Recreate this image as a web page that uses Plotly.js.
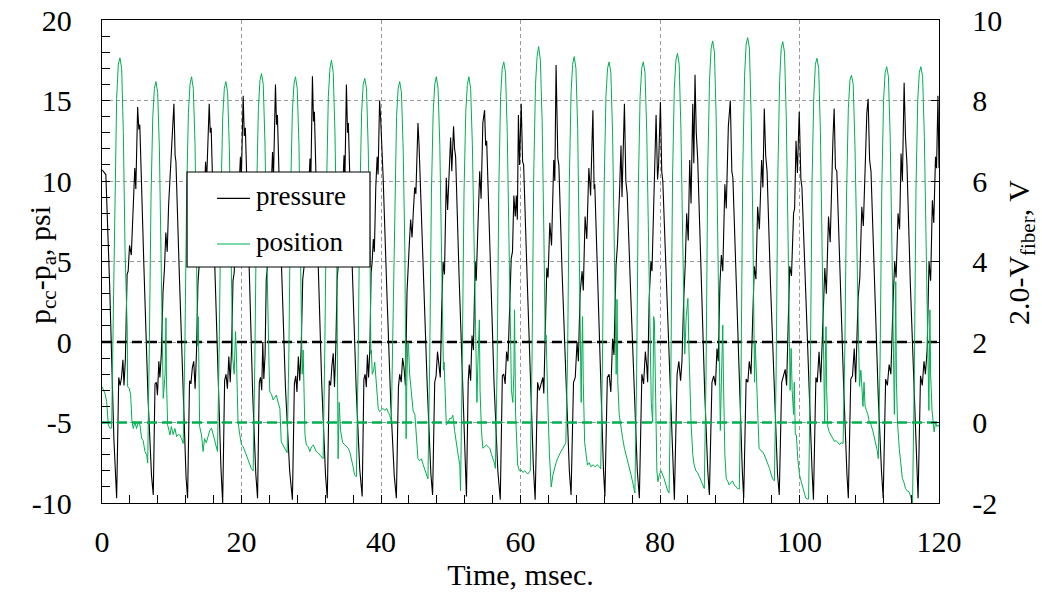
<!DOCTYPE html>
<html>
<head>
<meta charset="utf-8">
<script src="https://cdn.plot.ly/plotly-3.0.1.min.js"></script>
<style>html,body{margin:0;padding:0;background:#fff;}#chart{width:1042px;height:594px;}</style>
</head>
<body>
<div id="chart"></div>
<script>
// ---- data ----
const timePressure = [
0,0.55,1.10,1.70,
2.10,2.40,2.60,2.80,3.00,3.15,3.35,3.60,3.75,3.95,4.20,4.45,4.70,4.85,5.11,5.28,5.42,6.00,6.60,7.10,
7.35,7.60,7.80,7.95,8.15,8.30,8.50,8.75,8.95,9.15,9.35,9.55,9.80,9.95,10.31,10.48,10.60,11.10,11.60,12.05,
12.27,12.55,12.75,12.95,13.15,13.35,13.55,13.75,13.95,14.15,14.35,14.60,14.85,15.00,15.37,15.52,15.65,16.15,16.65,17.05,
17.30,17.58,17.78,17.98,18.18,18.38,18.58,18.78,18.95,19.15,19.35,19.60,19.85,19.98,20.24,20.40,20.55,21.05,21.60,22.05,
22.30,22.55,22.72,22.90,23.05,23.20,23.38,23.55,23.70,23.88,24.05,24.25,24.45,24.58,24.87,25.02,25.15,25.70,26.30,26.90,
27.30,27.58,27.78,27.95,28.15,28.35,28.55,28.78,28.95,29.15,29.35,29.58,29.82,29.95,30.17,30.32,30.45,30.95,31.50,32.05,
32.30,32.58,32.78,32.96,33.15,33.33,33.52,33.72,33.88,34.08,34.25,34.48,34.70,34.82,35.04,35.20,35.32,35.85,36.45,36.95,
37.30,37.55,37.72,37.90,38.05,38.22,38.40,38.58,38.72,38.90,39.05,39.25,39.45,39.58,39.80,39.95,40.10,40.30,40.85,41.40,41.90,
42.20,42.50,42.68,42.90,43.10,43.30,43.50,43.73,43.87,44.05,44.25,44.45,44.65,44.83,45.00,45.30,45.45,45.55,46.05,46.65,47.15,
47.40,47.70,47.90,48.10,48.30,48.50,48.70,48.90,49.10,49.36,49.55,49.80,49.98,50.15,50.40,50.55,50.70,51.20,51.75,52.05,
52.25,52.50,52.65,52.85,53.05,53.25,53.50,53.65,53.90,54.15,54.35,54.60,54.85,55.00,55.15,55.65,56.20,56.75,
57.10,57.40,57.60,57.80,58.00,58.20,58.43,58.67,58.85,59.05,59.25,59.40,59.55,59.70,59.86,60.10,60.30,60.45,60.95,61.45,61.85,
62.10,62.45,62.70,62.95,63.20,63.34,63.58,63.77,63.95,64.20,64.45,64.77,64.92,65.10,65.35,65.50,65.95,66.55,67.00,
67.25,67.60,67.85,68.11,68.30,68.54,68.83,69.00,69.26,69.50,69.80,70.05,70.38,70.55,70.65,71.05,71.50,71.90,
72.10,72.45,72.70,72.95,73.20,73.40,73.70,73.90,74.18,74.41,74.55,74.90,75.10,75.30,75.80,76.30,76.75,
77.04,77.40,77.65,77.90,78.10,78.23,78.45,78.70,78.85,79.05,79.20,79.44,79.65,79.80,80.06,80.25,80.40,80.90,81.40,81.85,
82.06,82.45,82.70,82.95,83.15,83.40,83.60,83.83,84.05,84.26,84.45,84.70,84.85,85.02,85.20,85.40,85.90,86.40,86.85,
87.08,87.45,87.70,87.95,88.17,88.35,88.60,88.80,89.00,89.30,89.50,89.80,90.08,90.30,90.45,90.95,91.40,91.80,
92.00,92.35,92.60,92.80,93.05,93.30,93.52,93.75,94.00,94.25,94.57,94.75,94.95,95.15,95.35,95.85,96.35,96.85,
97.10,97.45,97.70,97.95,98.15,98.40,98.60,98.85,99.15,99.30,99.50,99.70,99.96,100.20,100.35,100.90,101.40,101.80,
102.00,102.35,102.55,102.80,103.05,103.40,103.63,103.85,104.16,104.40,104.63,104.80,104.97,105.15,105.35,105.85,106.35,106.80,
107.00,107.35,107.60,107.85,108.05,108.40,108.65,108.93,109.15,109.45,109.65,109.84,110.05,110.25,110.75,111.30,111.75,
112.00,112.35,112.60,112.85,113.10,113.40,113.65,113.85,114.13,114.35,114.56,114.75,115.00,115.20,115.40,115.90,116.40,116.80,
117.00,117.35,117.60,117.85,118.05,118.30,118.57,118.80,119.05,119.25,119.50,119.65,119.85,120.00
];
const pressure = [
10.7,10.4,3.5,-6.0,
-9.7,-2.2,-2.7,-2.2,-1.1,-2.7,-1.1,4.2,4.4,6.0,5.4,8.7,10.8,9.5,14.6,13.2,13.5,4.8,-3.5,-8.3,
-9.5,-2.6,-2.5,-3.3,-1.2,-2.2,-0.8,3.1,4.5,6.8,5.6,8.5,10.6,12.0,14.8,11.6,11.2,4.0,-3.0,-8.4,
-9.7,-2.4,-2.6,-1.6,-1.2,-2.9,-0.6,3.6,4.9,6.4,5.5,8.9,11.2,10.0,14.8,13.0,13.3,5.0,-2.5,-7.8,
-10.0,-2.4,-2.0,-2.9,-0.9,-2.5,-0.4,3.8,4.3,6.5,5.0,9.2,11.5,10.2,15.3,12.8,13.3,5.0,-3.2,-8.2,
-9.7,-2.5,-2.2,-3.0,0.0,-2.3,-0.8,3.9,4.6,6.8,5.3,9.5,11.8,10.1,16.0,13.5,14.1,5.2,-2.8,-8.0,
-9.8,-2.6,-2.1,-3.1,-0.9,-2.4,-0.5,3.9,4.6,6.3,5.2,9.0,11.4,10.3,16.5,13.7,14.3,5.5,-2.6,-8.3,
-9.7,-2.4,-2.7,-1.5,-0.7,-2.8,-0.4,4.0,4.8,6.6,5.4,9.3,11.6,10.0,16.0,13.0,13.6,5.0,-3.0,-7.9,
-9.6,-2.3,-2.0,-2.8,-0.8,-2.2,-0.5,4.3,4.9,6.4,5.6,9.6,11.5,10.4,15.0,13.9,12.5,10.3,3.0,-3.8,-8.3,
-9.7,-2.8,-2.0,-2.5,-1.0,-1.6,-2.7,3.1,4.8,6.0,7.6,6.5,8.2,9.6,9.2,13.6,12.3,11.0,4.0,-3.0,-8.2,
-9.5,-2.5,-2.1,-0.6,-1.5,-2.2,2.0,5.0,4.2,10.2,8.2,11.5,12.7,10.6,13.4,12.0,11.5,4.0,-3.5,-7.8,
-9.6,-2.5,-1.4,-2.4,0.4,-0.5,5.0,3.8,7.8,10.6,8.9,13.6,14.4,12.2,12.5,5.0,-2.5,-8.0,
-9.8,-2.1,-2.0,-2.6,-0.6,-1.2,1.7,5.2,5.6,9.1,7.8,9.1,7.6,14.1,11.0,14.8,11.2,11.0,4.0,-3.0,-7.8,
-9.8,-2.5,-3.0,-2.5,-2.2,-3.2,2.1,4.6,4.0,7.4,6.0,11.3,10.0,17.2,11.4,11.0,4.5,-3.0,-8.0,
-9.5,-2.5,-2.2,0.0,-1.2,3.0,4.4,3.2,7.8,6.4,10.8,9.1,14.4,9.5,9.8,4.0,-2.8,-8.0,
-9.6,-2.2,-2.0,-3.1,0.2,-0.8,4.8,6.0,9.1,12.2,9.0,14.8,10.0,9.2,3.0,-3.5,-8.0,
-9.7,-2.0,-2.6,-0.6,-1.5,-2.5,2.7,5.0,4.4,8.0,9.0,14.1,10.1,11.0,14.9,10.6,10.0,4.0,-3.0,-8.0,
-9.8,-2.0,-1.2,-2.4,-1.2,2.7,4.6,8.0,6.3,11.3,8.6,14.8,11.1,16.6,13.0,11.4,4.0,-3.0,-8.0,
-9.5,-2.5,-2.1,-2.7,-0.4,-1.2,3.7,5.4,4.4,9.8,8.3,13.4,15.0,10.6,10.2,3.5,-3.0,-8.0,
-9.7,-2.3,-2.5,-1.2,-2.0,1.8,4.7,3.9,8.4,7.0,11.3,9.6,14.5,11.6,10.6,3.5,-3.0,-8.2,
-9.5,-2.5,-2.1,-1.7,-2.7,1.8,4.7,4.1,8.0,8.3,12.5,10.5,14.3,10.1,9.6,3.0,-3.5,-8.0,
-9.8,-2.2,-2.5,-0.6,-2.5,1.7,4.6,3.0,7.8,6.2,11.0,12.7,14.5,10.8,10.6,3.5,-3.0,-8.2,
-9.7,-2.3,-2.1,-0.4,-2.5,2.7,4.0,8.4,7.2,11.3,14.2,15.1,11.3,10.6,3.5,-3.5,-8.0,
-9.7,-2.3,-2.7,-1.4,-2.0,2.3,5.0,4.0,8.0,7.0,11.7,10.0,16.1,12.7,11.1,3.5,-3.0,-8.0,
-9.7,-2.1,-2.7,-1.2,-2.0,-0.5,5.0,3.8,8.8,7.4,11.5,10.8,15.3,10.8
];
const timePosition = [
0,0.43,0.67,0.91,1.15,1.38,
1.62,1.86,2.10,2.34,2.57,2.82,3.06,3.30,3.53,3.62,3.67,3.90,4.10,4.30,4.49,4.73,4.95,5.20,5.44,5.68,5.90,6.16,6.40,6.55,
6.78,7.03,7.28,7.51,7.73,7.98,8.23,8.48,8.78,9.05,9.17,9.25,9.41,9.60,9.74,9.95,10.20,10.45,10.70,10.95,11.16,11.40,11.64,
11.89,12.14,12.39,12.62,12.84,13.09,13.34,13.59,13.72,13.80,13.88,14.00,14.27,14.50,14.70,14.95,15.20,15.45,15.70,15.95,16.20,16.42,16.56,
16.81,17.06,17.31,17.54,17.76,18.01,18.26,18.51,18.75,18.95,19.14,19.25,19.50,19.75,20.00,20.25,20.50,20.75,20.96,21.20,21.40,21.67,
21.92,22.17,22.42,22.65,22.87,23.12,23.37,23.62,23.82,23.95,24.06,24.30,24.54,24.75,25.00,25.25,25.50,25.70,25.95,26.20,26.40,26.54,
26.79,27.04,27.29,27.52,27.74,27.99,28.24,28.49,28.70,28.84,28.95,29.10,29.30,29.55,29.80,30.05,30.30,30.50,30.70,30.95,31.20,31.45,31.70,
31.95,32.20,32.45,32.68,32.90,33.15,33.40,33.65,33.75,33.85,34.00,34.20,34.50,34.80,35.10,35.30,35.55,35.75,36.00,36.20,36.47,
36.72,36.97,37.22,37.45,37.67,37.92,38.17,38.42,38.55,38.62,38.75,38.95,39.10,39.30,39.60,39.80,40.05,40.30,40.55,40.80,41.05,41.25,41.48,
41.73,41.98,42.23,42.46,42.68,42.93,43.18,43.43,43.60,43.70,43.85,43.95,44.10,44.35,44.60,44.85,45.05,45.30,45.55,45.80,46.05,46.30,46.50,46.73,
46.98,47.23,47.48,47.71,47.93,48.18,48.43,48.68,48.85,48.95,49.05,49.20,49.36,49.60,49.85,50.10,50.30,50.55,50.80,51.05,51.30,51.40,
51.65,51.90,52.15,52.38,52.60,52.85,53.10,53.35,53.60,53.75,53.90,54.10,54.20,54.40,54.60,54.85,55.10,55.35,55.60,55.85,56.05,56.25,56.40,
56.65,56.90,57.15,57.38,57.60,57.85,58.10,58.35,58.55,58.70,58.90,59.05,59.14,59.30,59.60,59.85,60.10,60.35,60.60,60.80,61.05,61.40,
61.65,61.90,62.15,62.38,62.60,62.85,63.10,63.35,63.55,63.67,63.80,63.95,64.15,64.40,64.65,64.90,65.10,65.30,65.55,65.80,66.05,66.30,66.50,
66.75,67.00,67.25,67.48,67.70,67.95,68.20,68.45,68.65,68.70,68.80,68.90,69.00,69.20,69.60,69.85,70.10,70.40,70.70,71.00,71.30,71.50,
71.75,72.00,72.25,72.48,72.70,72.95,73.20,73.45,73.65,73.72,73.84,73.95,74.15,74.40,74.65,74.90,75.15,75.40,75.60,75.85,76.10,76.30,76.40,
76.65,76.90,77.15,77.38,77.60,77.85,78.10,78.35,78.55,78.75,78.95,79.10,79.20,79.35,79.55,79.70,79.90,80.15,80.40,80.60,80.85,81.10,81.30,
81.55,81.80,82.05,82.28,82.50,82.75,83.00,83.25,83.40,83.55,83.75,84.00,84.15,84.45,84.70,84.90,85.15,85.40,85.65,85.90,86.15,86.35,
86.60,86.85,87.10,87.33,87.55,87.80,88.05,88.30,88.50,88.65,88.80,89.00,89.10,89.30,89.50,89.70,89.90,90.15,90.40,90.65,90.90,91.10,91.37,
91.62,91.87,92.12,92.35,92.57,92.82,93.07,93.32,93.45,93.55,93.65,93.80,94.00,94.20,94.45,94.70,94.95,95.20,95.45,95.70,95.95,96.15,96.40,
96.65,96.90,97.15,97.38,97.60,97.85,98.10,98.35,98.55,98.65,98.80,98.95,99.15,99.25,99.40,99.55,99.75,100.00,100.30,100.50,100.75,100.90,101.15,101.30,
101.55,101.80,102.05,102.28,102.50,102.75,103.00,103.25,103.50,103.60,103.70,103.80,103.90,104.05,104.25,104.50,104.75,105.00,105.25,105.50,105.75,106.00,106.25,
106.50,106.75,107.00,107.23,107.45,107.70,107.95,108.20,108.45,108.60,108.80,108.95,109.10,109.25,109.40,109.60,109.80,110.00,110.25,110.50,110.70,110.90,111.15,111.30,
111.55,111.80,112.05,112.28,112.50,112.75,113.00,113.25,113.45,113.60,113.70,113.80,113.90,114.05,114.30,114.55,114.75,115.00,115.20,115.45,115.70,115.95,116.20,
116.45,116.70,116.95,117.18,117.40,117.65,117.90,118.15,118.35,118.55,118.62,118.70,118.80,119.00,119.30,119.50,119.70,119.90,120.00
];
const position = [
0.89,0.72,0.52,-0.06,-0.14,-0.14,
2.67,5.98,8.05,8.90,9.06,8.80,7.20,4.30,2.38,2.30,0.89,0.85,0.70,0.02,-0.15,0.02,-0.15,0.00,-0.06,-0.39,-0.45,-0.72,-0.80,-1.01,
1.8,5.6,7.6,8.3,8.47,8.2,6.8,4.2,0.6,1.2,2.6,1.0,-0.06,-0.2,-0.31,-0.1,-0.3,-0.15,-0.35,-0.3,-0.31,-0.4,-0.52,
2.0,5.7,7.7,8.4,8.59,8.3,6.9,4.3,1.9,2.63,1.5,-0.1,-0.31,-0.72,-0.4,-0.5,-0.35,-0.2,-0.14,-0.31,-0.5,-0.64,-0.72,
2.0,5.6,7.6,8.3,8.47,8.2,6.8,4.2,1.6,1.2,2.26,1.8,0.02,-0.3,-0.56,-0.6,-0.72,-0.8,-0.89,-1.0,-1.14,-1.2,
1.6,5.7,7.8,8.5,8.67,8.4,6.9,4.3,1.7,1.4,0.76,0.7,0.56,0.62,0.68,0.5,0.35,-0.48,-0.55,-0.64,-0.7,-0.75,
1.7,5.7,7.7,8.4,8.59,8.3,6.9,4.3,1.2,1.8,0.5,-0.3,-0.56,-0.6,-0.72,-0.6,-0.56,-0.65,-0.72,-0.75,-0.8,-0.85,-0.9,
1.9,5.9,8.1,8.8,9.0,8.7,7.2,4.5,1.6,-0.9,0.5,-0.2,-0.5,-0.56,-0.6,-0.64,-0.75,-0.89,-1.1,-1.3,-1.35,
1.5,5.6,7.7,8.4,8.55,8.3,6.8,4.3,1.7,1.8,1.2,1.3,1.5,1.0,0.35,0.27,0.32,0.35,0.3,0.35,0.25,0.18,0.02,
2.8,5.6,7.6,8.3,8.47,8.2,6.8,4.2,-0.4,1.0,2.0,1.9,1.2,0.76,0.3,0.2,-0.4,-0.9,-0.95,-0.9,-1.05,-1.2,-1.3,-1.4,
1.5,5.7,7.7,8.4,8.59,8.3,6.9,4.3,2.2,1.3,1.5,0.5,-0.06,0.0,0.1,0.1,0.18,-0.2,-0.56,-0.8,-1.06,-1.7,
1.5,5.7,7.7,8.4,8.59,8.3,6.9,4.3,1.6,0.5,1.5,2.55,0.8,-0.2,-0.64,-0.6,-0.56,-0.6,-0.64,-0.8,-0.9,-1.0,-1.14,
1.4,5.9,8.1,8.8,8.96,8.7,7.2,4.5,1.7,0.8,0.5,1.2,2.8,0.2,-1.06,-1.2,-1.18,-1.24,-1.2,-1.24,-1.28,-1.2,
1.5,6.2,8.4,9.1,9.34,9.0,7.5,4.7,2.0,2.17,0.9,0.3,-0.8,-1.6,-1.3,-1.1,-1.0,-0.9,-0.8,-0.72,-0.65,-0.56,-0.5,
1.6,6.0,8.2,8.9,9.09,8.8,7.3,4.5,2.0,0.5,1.8,2.63,1.0,-0.5,-1.06,-1.0,-1.1,-1.05,-1.1,-1.05,-1.1,-1.15,
1.5,5.9,8.1,8.8,8.96,8.7,7.2,4.5,1.6,1.2,3.06,1.0,0.2,-0.14,-0.4,-0.64,-0.8,-0.97,-1.1,-1.3,-1.5,-1.7,-1.75,
1.2,5.9,8.1,8.8,8.96,8.7,7.2,4.5,2.0,0.5,0.0,2.63,2.5,0.3,-1.2,-1.47,-1.3,-1.2,-1.3,-1.4,-1.55,-1.7,-1.75,
1.0,6.1,8.3,9.0,9.17,8.9,7.3,4.6,2.5,1.7,2.6,3.08,1.8,0.0,-0.8,-1.06,-1.2,-1.25,-1.35,-1.47,-1.55,-1.64,
1.2,6.3,8.5,9.3,9.48,9.2,7.6,4.7,2.2,-0.2,1.0,2.42,1.0,-0.8,-1.4,-1.45,-1.55,-1.5,-1.45,-1.55,-1.6,-1.64,-1.65,
1.2,6.3,8.6,9.4,9.56,9.3,7.6,4.8,2.2,1.0,2.0,1.2,0.2,-0.64,-0.7,-0.72,-0.8,-0.9,-1.0,-1.14,-1.3,-1.4,-1.45,
1.2,6.2,8.5,9.3,9.46,9.2,7.6,4.7,1.8,0.8,1.84,0.8,0.2,1.0,-0.3,-0.31,-0.9,-1.3,-1.5,-1.65,-1.8,-1.88,-1.9,-1.9,
1.2,6.0,8.1,8.9,9.05,8.8,7.2,4.5,2.0,0.0,1.5,2.38,0.8,-0.1,-0.23,-0.3,-0.4,-0.47,-0.45,-0.5,-0.55,-0.5,-0.52,
1.8,5.7,7.8,8.5,8.63,8.4,6.9,4.3,2.2,0.9,1.3,0.8,0.4,1.0,0.4,0.3,0.2,0.02,-0.05,-0.2,-0.35,-0.47,-0.7,-0.9,
1.5,5.8,8.0,8.7,8.84,8.6,7.1,4.4,2.0,0.2,1.5,3.5,1.0,0.0,-0.64,-1.0,-1.39,-1.5,-1.64,-1.7,-1.72,-1.85,-2.05,
1.0,5.8,8.0,8.7,8.84,8.6,7.1,4.4,2.0,0.3,1.5,2.8,1.2,0.3,-0.23,0.0,-0.1,-0.06,-0.1
];
const zeroLineTime = [0, 120];
const pressureZero = [0, 0];
const positionZero = [0, 0];
const xTickValues = [0, 20, 40, 60, 80, 100, 120];
const xTickText = ['0', '20', '40', '60', '80', '100', '120'];
const yTickValues = [-10, -5, 0, 5, 10, 15, 20];
const yTickText = ['-10', '-5', '0', '5', '10', '15', '20'];
const y2TickValues = [-2, 0, 2, 4, 6, 8, 10];
const y2TickText = ['-2', '0', '2', '4', '6', '8', '10'];
const seriesNames = ['pressure', 'position'];
const titles = {x: 'Time, msec.', y: 'p<sub>cc</sub>-p<sub>a</sub>, psi', y2: '2.0-V<sub>fiber</sub>, V'};

// ---- chart ----
const FONT = '"Liberation Serif", "Times New Roman", serif';
const GREEN = '#00b050';
const traces = [
  {x: timePressure, y: pressure, type: 'scatter', mode: 'lines', name: seriesNames[0],
   line: {color: '#000000', width: 1.1}, yaxis: 'y', hoverinfo: 'skip'},
  {x: timePosition, y: position, type: 'scatter', mode: 'lines', name: seriesNames[1],
   line: {color: GREEN, width: 1}, yaxis: 'y2', hoverinfo: 'skip'},
  {x: zeroLineTime, y: pressureZero, type: 'scatter', mode: 'lines', showlegend: false,
   line: {color: '#000000', width: 2.5, dash: '10px,5px'}, yaxis: 'y', hoverinfo: 'skip'},
  {x: zeroLineTime, y: positionZero, type: 'scatter', mode: 'lines', showlegend: false,
   line: {color: GREEN, width: 2.5, dash: '10px,5px'}, yaxis: 'y2', hoverinfo: 'skip'}
];

const legX0 = 0.1016, legX1 = 0.3202, legY0 = 0.4886, legY1 = 0.6853;
const lineX0 = 0.1374, lineX1 = 0.1768, textX = 0.1815;
const row1 = 0.6308, row2 = 0.5362, txt1 = 0.6360, txt2 = 0.5414;

const layout = {
  width: 1042, height: 594,
  margin: {l: 102, r: 103, t: 20, b: 91, pad: 0},
  paper_bgcolor: '#ffffff', plot_bgcolor: '#ffffff',
  showlegend: false,
  font: {family: FONT, size: 30, color: '#000000'},
  xaxis: {
    range: [0, 120], tickvals: xTickValues, ticktext: xTickText, ticks: 'inside', ticklen: 8, tickcolor: '#000',
    showline: true, linecolor: '#000', linewidth: 1.3, mirror: true,
    showgrid: true, gridcolor: '#9a9a9a', gridwidth: 1, griddash: '4px,3px',
    zeroline: false, ticklabelstandoff: 12,
    minor: {dtick: 4, tick0: 0, ticks: 'inside', ticklen: 8, tickcolor: '#000', showgrid: false},
    title: {text: titles.x, font: {family: FONT, size: 30}, standoff: 6},
    tickfont: {family: FONT, size: 30}
  },
  yaxis: {
    range: [-10, 20], tickvals: yTickValues, ticktext: yTickText, ticks: 'inside', ticklen: 8, tickcolor: '#000',
    showline: true, linecolor: '#000', linewidth: 1.3,
    showgrid: true, gridcolor: '#9a9a9a', gridwidth: 1, griddash: '4px,3px',
    zeroline: false, ticklabelstandoff: 23,
    minor: {dtick: 1, tick0: 0, ticks: 'inside', ticklen: 8, tickcolor: '#000', showgrid: false},
    tickfont: {family: FONT, size: 30}
  },
  yaxis2: {
    range: [-2, 10], tickvals: y2TickValues, ticktext: y2TickText, overlaying: 'y', side: 'right',
    ticks: 'inside', ticklen: 8, tickcolor: '#000',
    showline: true, linecolor: '#000', linewidth: 1.3, showgrid: false, zeroline: false,
    ticklabelstandoff: 26,
    tickfont: {family: FONT, size: 30}
  },
  shapes: [
    {type: 'rect', xref: 'paper', yref: 'paper', x0: legX0, x1: legX1, y0: legY0, y1: legY1,
     fillcolor: '#ffffff', line: {color: '#000000', width: 1.2}, layer: 'above'},
    {type: 'line', xref: 'paper', yref: 'paper', x0: lineX0, x1: lineX1, y0: row1, y1: row1,
     line: {color: '#000000', width: 1.2}, layer: 'above'},
    {type: 'line', xref: 'paper', yref: 'paper', x0: lineX0, x1: lineX1, y0: row2, y1: row2,
     line: {color: GREEN, width: 1.2}, layer: 'above'}
  ],
  annotations: [
    {xref: 'paper', yref: 'paper', x: textX, y: txt1, text: seriesNames[0], showarrow: false,
     xanchor: 'left', yanchor: 'middle', font: {family: FONT, size: 27, color: '#000'}},
    {xref: 'paper', yref: 'paper', x: textX, y: txt2, text: seriesNames[1], showarrow: false,
     xanchor: 'left', yanchor: 'middle', font: {family: FONT, size: 27, color: '#000'}},
    {xref: 'paper', yref: 'paper', x: -0.0717, y: 0.4928, text: titles.y, showarrow: false,
     textangle: -90, xanchor: 'center', yanchor: 'middle', font: {family: FONT, size: 30, color: '#000'}},
    {xref: 'paper', yref: 'paper', x: 1.0981, y: 0.5176, text: titles.y2, showarrow: false,
     textangle: -90, xanchor: 'center', yanchor: 'middle', font: {family: FONT, size: 30, color: '#000'}}
  ]
};

Plotly.newPlot('chart', traces, layout, {staticPlot: true, displayModeBar: false});
</script>
</body>
</html>
